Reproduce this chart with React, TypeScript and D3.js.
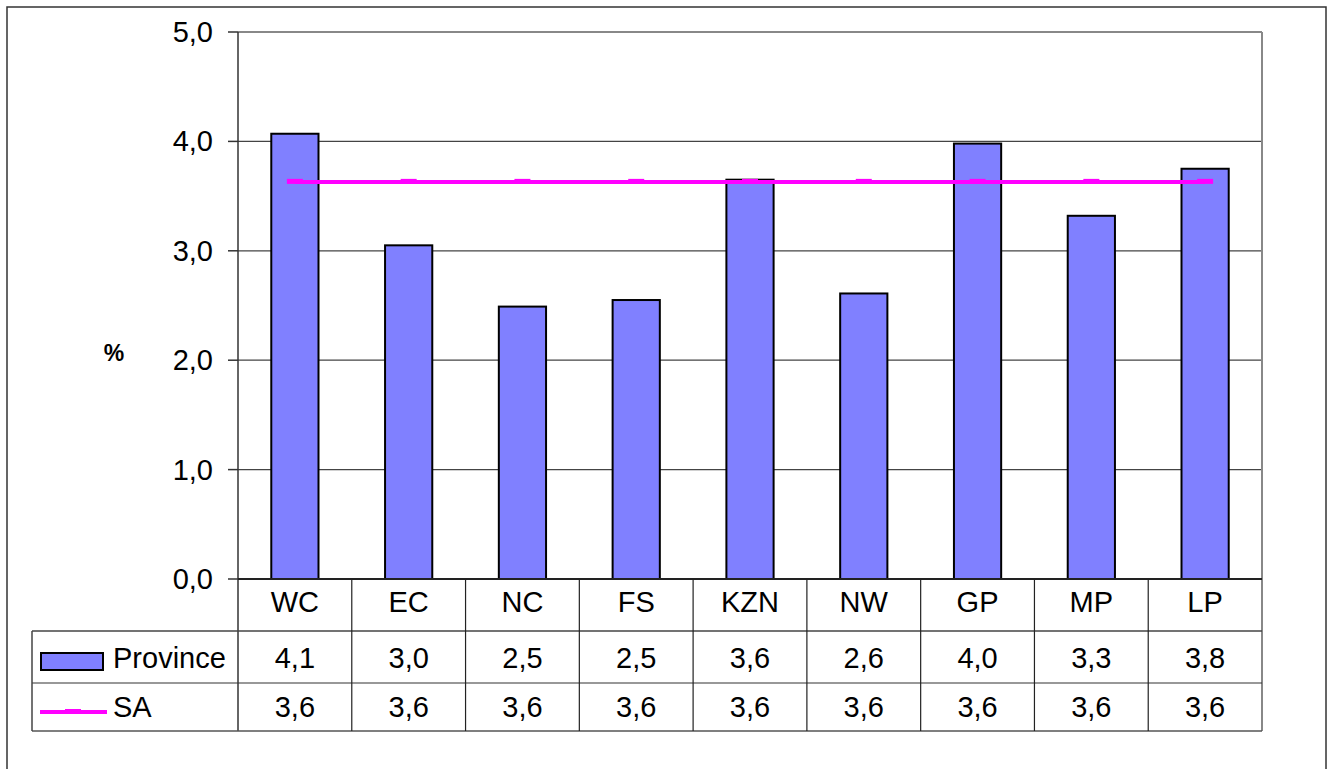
import React from "react";
import * as d3 from "d3";

const categories = ["WC", "EC", "NC", "FS", "KZN", "NW", "GP", "MP", "LP"];
const provinceValues = [4.07, 3.05, 2.49, 2.55, 3.65, 2.61, 3.98, 3.32, 3.75];
const saValues = [3.63, 3.63, 3.63, 3.63, 3.63, 3.63, 3.63, 3.63, 3.63];
const yTicks = [0, 1, 2, 3, 4, 5];
const seriesNames = ["Province", "SA"];

const W = 1327;
const H = 769;
const plotLeft = 238;
const plotRight = 1262;
const plotTop = 32;
const plotBottom = 579;
const tableLeft = 32;
const rowCat = 631;
const rowProv = 683;
const rowSA = 731;

const BAR_FILL = "#8080FF";
const LINE_COLOR = "#FF00FF";
const FONT = "'Liberation Sans', Arial, sans-serif";
const FS = 29;

const fmt = (v: number) => v.toFixed(1).replace(".", ",");

export default function App() {
  const x = d3.scaleBand<string>().domain(categories).range([plotLeft, plotRight]).paddingInner(0).paddingOuter(0);
  const y = d3.scaleLinear().domain([0, 5]).range([plotBottom, plotTop]);
  const barW = x.bandwidth() * 0.415;
  const cx = (c: string) => (x(c) as number) + x.bandwidth() / 2;

  const line = d3
    .line<number>()
    .x((_, i) => cx(categories[i]))
    .y((d) => y(d));

  const colEdges = categories.map((c) => x(c) as number).concat([plotRight]);

  return (
    <div style={{ position: "absolute", left: 0, top: 0 }}>
      <svg width={W} height={H} style={{ display: "block", background: "#fff" }}>
        <rect x={7} y={7} width={1319} height={800} fill="none" stroke="#333" strokeWidth={1.5} />

        {/* gridlines */}
        {yTicks.filter((t) => t > 0 && t < 5).map((t) => (
          <line key={"g" + t} x1={plotLeft} x2={plotRight} y1={y(t)} y2={y(t)} stroke="#444" strokeWidth={1.2} />
        ))}
        {/* plot frame top & right */}
        <line x1={plotLeft} x2={plotRight} y1={y(5)} y2={y(5)} stroke="#888" strokeWidth={2} />
        <line x1={plotRight} x2={plotRight} y1={plotTop} y2={rowSA} stroke="#888" strokeWidth={2} />

        {/* bars */}
        {provinceValues.map((v, i) => (
          <rect
            key={"b" + i}
            x={cx(categories[i]) - barW / 2}
            y={y(v)}
            width={barW}
            height={y(0) - y(v)}
            fill={BAR_FILL}
            stroke="#000"
            strokeWidth={2}
          />
        ))}

        {/* y axis */}
        <line x1={plotLeft} x2={plotLeft} y1={plotTop} y2={rowSA} stroke="#333" strokeWidth={1.5} />
        {yTicks.map((t) => (
          <g key={"t" + t}>
            <line x1={plotLeft - 10} x2={plotLeft} y1={y(t)} y2={y(t)} stroke="#333" strokeWidth={1.5} />
            <text x={213} y={y(t) + 10} textAnchor="end" fontFamily={FONT} fontSize={FS} fill="#000">
              {fmt(t)}
            </text>
          </g>
        ))}
        <text x={114} y={361} textAnchor="middle" fontFamily={FONT} fontSize={23} fontWeight="bold" fill="#000">
          %
        </text>

        {/* x axis base */}
        <line x1={plotLeft} x2={plotRight} y1={y(0)} y2={y(0)} stroke="#222" strokeWidth={2} />

        {/* SA line */}
        <path d={line(saValues) || ""} fill="none" stroke={LINE_COLOR} strokeWidth={4} />
        {saValues.map((v, i) => (
          <rect key={"m" + i} x={cx(categories[i]) - 8} y={y(v) - 3} width={16} height={5} fill={LINE_COLOR} />
        ))}

        {/* data table */}
        <line x1={tableLeft} x2={plotRight} y1={rowCat} y2={rowCat} stroke="#444" strokeWidth={1.5} />
        <line x1={tableLeft} x2={plotRight} y1={rowProv} y2={rowProv} stroke="#333" strokeWidth={1.2} />
        <line x1={tableLeft} x2={plotRight} y1={rowSA} y2={rowSA} stroke="#555" strokeWidth={1.5} />
        <line x1={tableLeft} x2={tableLeft} y1={rowCat} y2={rowSA} stroke="#444" strokeWidth={1.5} />
        {colEdges.slice(1, -1).map((e, i) => (
          <line key={"c" + i} x1={e} x2={e} y1={plotBottom} y2={rowSA} stroke="#222" strokeWidth={1.2} />
        ))}

        {categories.map((c, i) => (
          <g key={"cell" + i}>
            <text x={cx(c)} y={612} textAnchor="middle" fontFamily={FONT} fontSize={FS} fill="#000">
              {c}
            </text>
            <text x={cx(c)} y={668} textAnchor="middle" fontFamily={FONT} fontSize={FS} fill="#000">
              {fmt(provinceValues[i])}
            </text>
            <text x={cx(c)} y={717} textAnchor="middle" fontFamily={FONT} fontSize={FS} fill="#000">
              {fmt(saValues[i])}
            </text>
          </g>
        ))}

        {/* legend keys */}
        <rect x={41} y={653} width={62} height={17} fill={BAR_FILL} stroke="#000" strokeWidth={2} />
        <text x={113} y={668} fontFamily={FONT} fontSize={FS} fill="#000">
          {seriesNames[0]}
        </text>
        <line x1={40} x2={107} y1={712} y2={712} stroke={LINE_COLOR} strokeWidth={4} />
        <rect x={65} y={709} width={16} height={5} fill={LINE_COLOR} />
        <text x={113} y={717} fontFamily={FONT} fontSize={FS} fill="#000">
          {seriesNames[1]}
        </text>
      </svg>
    </div>
  );
}
